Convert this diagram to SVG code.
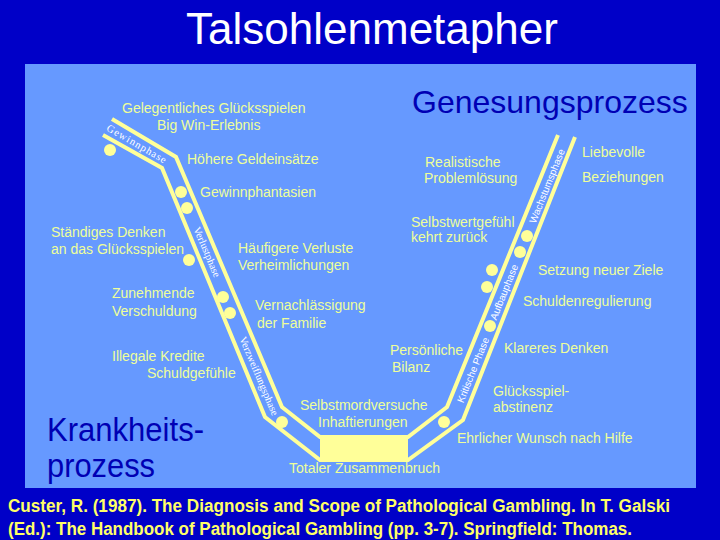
<svg xmlns="http://www.w3.org/2000/svg" width="720" height="540" viewBox="0 0 720 540">
<style>
.lbl{font-family:"Liberation Sans",Arial,sans-serif;font-size:14px;fill:#EEFF99}
.big{font-family:"Liberation Sans",Arial,sans-serif;fill:#0000B4}
.ph{font-family:"Liberation Serif","Times New Roman",serif;font-size:10.5px;fill:#FFFFFF;text-anchor:middle}
.phs{font-family:"Liberation Sans",Arial,sans-serif;font-size:10px;fill:#FFFFFF;text-anchor:middle}
.band{fill:none;stroke:#FFFF99;stroke-width:4;stroke-linejoin:miter}
.dot{fill:#FFFF99}
.cite{font-family:"Liberation Sans",Arial,sans-serif;font-weight:bold;font-size:18px;fill:#FFFF66}
</style>
<rect x="0" y="0" width="720" height="540" fill="#0000C8"/>
<text x="372" y="44" font-family="Liberation Sans, Arial, sans-serif" font-size="44" fill="#FFFFFF" text-anchor="middle">Talsohlenmetapher</text>
<rect x="25" y="64" width="671" height="424" fill="#6699FF"/>

<g id="connectors">
  <polyline class="band" points="112,119 176,157 282,407 320,437 408,437 447,407 558,135"/>
  <polyline class="band" points="103,135 162,168 265,417 320,460 408,460 463,420 575,137"/>
  <rect x="320" y="437" width="88" height="23" fill="#FFFF99"/>
  <text class="ph" transform="translate(137,144) rotate(30)" dy="3.5" letter-spacing="1">Gewinnphase</text>
  <text class="ph" transform="translate(207,252) rotate(67)" dy="3.5">Verlustphase</text>
  <text class="ph" transform="translate(259,376) rotate(67)" dy="3.5">Verzweiflungsphase</text>
  <text class="phs" transform="translate(473,370) rotate(-68)" dy="3.5">Kritische Phase</text>
  <text class="phs" transform="translate(504,292) rotate(-68)" dy="3.5">Aufbauphase</text>
  <text class="phs" transform="translate(547,186) rotate(-68)" dy="3.5">Wachstumsphase</text>
</g>

<g id="dots">
  <circle class="dot" cx="110" cy="150" r="6"/>
  <circle class="dot" cx="181" cy="192" r="6"/>
  <circle class="dot" cx="187" cy="208" r="6"/>
  <circle class="dot" cx="189" cy="260" r="6"/>
  <circle class="dot" cx="223" cy="297" r="6"/>
  <circle class="dot" cx="230" cy="313" r="6"/>
  <circle class="dot" cx="282" cy="422" r="6"/>
  <circle class="dot" cx="444" cy="422" r="6"/>
  <circle class="dot" cx="490" cy="326" r="6"/>
  <circle class="dot" cx="487" cy="287" r="6"/>
  <circle class="dot" cx="492" cy="270" r="6"/>
  <circle class="dot" cx="520" cy="252" r="6"/>
  <circle class="dot" cx="527" cy="236" r="6"/>
</g>

<g id="n-gelegentlich"><text class="lbl" x="122" y="113">Gelegentliches Glücksspielen</text><text class="lbl" x="157" y="130">Big Win-Erlebnis</text></g>
<g id="n-hoehere"><text class="lbl" x="187" y="164">Höhere Geldeinsätze</text></g>
<g id="n-gewinnphantasien"><text class="lbl" x="200" y="197">Gewinnphantasien</text></g>
<g id="n-staendiges"><text class="lbl" x="51" y="237">Ständiges Denken</text><text class="lbl" x="51" y="254">an das Glücksspielen</text></g>
<g id="n-haeufigere"><text class="lbl" x="238" y="253">Häufigere Verluste</text><text class="lbl" x="238" y="270">Verheimlichungen</text></g>
<g id="n-zunehmende"><text class="lbl" x="112" y="298">Zunehmende</text><text class="lbl" x="112" y="316">Verschuldung</text></g>
<g id="n-vernachlaessigung"><text class="lbl" x="255" y="310">Vernachlässigung</text><text class="lbl" x="257" y="328">der Familie</text></g>
<g id="n-illegale"><text class="lbl" x="112" y="361">Illegale Kredite</text><text class="lbl" x="147" y="378">Schuldgefühle</text></g>
<g id="n-selbstmord"><text class="lbl" x="300" y="410">Selbstmordversuche</text><text class="lbl" x="318" y="427">Inhaftierungen</text></g>
<g id="n-totaler"><text class="lbl" x="289" y="473">Totaler Zusammenbruch</text></g>
<g id="n-persoenliche"><text class="lbl" x="390" y="355">Persönliche</text><text class="lbl" x="392" y="372">Bilanz</text></g>
<g id="n-selbstwert"><text class="lbl" x="411" y="227">Selbstwertgefühl</text><text class="lbl" x="411" y="242">kehrt zurück</text></g>
<g id="n-realistische"><text class="lbl" x="425" y="167">Realistische</text><text class="lbl" x="424" y="183">Problemlösung</text></g>
<g id="n-liebevolle"><text class="lbl" x="582" y="157">Liebevolle</text><text class="lbl" x="582" y="182">Beziehungen</text></g>
<g id="n-setzung"><text class="lbl" x="538" y="275">Setzung neuer Ziele</text></g>
<g id="n-schuldenregulierung"><text class="lbl" x="523" y="306">Schuldenregulierung</text></g>
<g id="n-klareres"><text class="lbl" x="504" y="353">Klareres Denken</text></g>
<g id="n-abstinenz"><text class="lbl" x="493" y="396">Glücksspiel-</text><text class="lbl" x="493" y="412">abstinenz</text></g>
<g id="n-ehrlicher"><text class="lbl" x="457" y="443">Ehrlicher Wunsch nach Hilfe</text></g>

<g id="n-genesung"><text class="big" x="412" y="113" font-size="32">Genesungsprozess</text></g>
<g id="n-krankheit">
  <text class="big" x="47" y="441" font-size="33" textLength="157" lengthAdjust="spacingAndGlyphs">Krankheits-</text>
  <text class="big" x="47" y="477" font-size="33" textLength="108" lengthAdjust="spacingAndGlyphs">prozess</text>
</g>

<g id="citation">
  <text class="cite" x="8" y="512" textLength="662" lengthAdjust="spacingAndGlyphs">Custer, R. (1987). The Diagnosis and Scope of Pathological Gambling. In T. Galski</text>
  <text class="cite" x="8" y="535" textLength="624" lengthAdjust="spacingAndGlyphs">(Ed.): The Handbook of Pathological Gambling (pp. 3-7). Springfield: Thomas.</text>
</g>
</svg>
